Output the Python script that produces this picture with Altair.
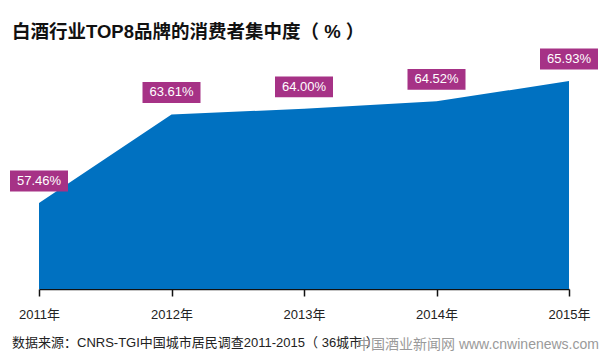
import altair as alt
import pandas as pd

years = [2011, 2012, 2013, 2014, 2015]
values = [57.46, 63.61, 64.00, 64.52, 65.93]
labels = ["57.46%", "63.61%", "64.00%", "64.52%", "65.93%"]
title_text = "白酒行业TOP8品牌的消费者集中度（ % ）"
source_text = "数据来源：CNRS-TGI中国城市居民调查2011-2015（ 36城市 ）"
watermark_text = "中国酒业新闻网  www.cnwinenews.com"

Y_MIN, Y_MAX = 51.49, 68.78

df = pd.DataFrame({"year": years, "value": values, "label": labels})

FONT = "Liberation Sans, Noto Sans CJK SC, sans-serif"
BLUE = "#0071C1"
MAGENTA = "#A63286"

x_enc = alt.X("year:Q",
              scale=alt.Scale(domain=[2011, 2015], nice=False, zero=False),
              axis=alt.Axis(values=years, labelExpr="datum.value + '年'",
                            title=None, grid=False, domainColor="#111",
                            tickColor="#111", tickSize=7, tickWidth=1.5,
                            domainWidth=1.5,
                            labelFont=FONT, labelFontSize=13, labelColor="#222",
                            labelPadding=12, labelFlush=False, labelBound=False,
                            labelOverlap=False))
y_scale = alt.Scale(domain=[Y_MIN, Y_MAX], nice=False, zero=False)

base = alt.Chart(df)

area = base.mark_area(color=BLUE, opacity=1, interpolate="linear").encode(
    x=x_enc,
    y=alt.Y("value:Q", scale=y_scale, axis=None),
    y2=alt.datum(Y_MIN),
)

box = base.mark_point(
    shape="M-1,-0.36 L1,-0.36 L1,0.36 L-1,0.36 Z",
    size=3364, filled=True, color=MAGENTA, opacity=1, strokeWidth=0,
    yOffset=-22,
).encode(x="year:Q", y=alt.Y("value:Q", scale=y_scale))

txt = base.mark_text(
    color="white", font=FONT, fontSize=13, baseline="middle", align="center",
    yOffset=-22,
).encode(x="year:Q", y=alt.Y("value:Q", scale=y_scale), text="label:N")

title = alt.Chart(pd.DataFrame({"t": [title_text]})).mark_text(
    font=FONT, fontSize=18.5, fontWeight="bold", color="#111",
    align="left", baseline="middle",
).encode(text="t:N", x=alt.value(-27), y=alt.value(-8))

source = alt.Chart(pd.DataFrame({"t": [source_text]})).mark_text(
    font=FONT, fontSize=13, color="#222", align="left", baseline="middle",
).encode(text="t:N", x=alt.value(-27), y=alt.value(303))

watermark = alt.Chart(pd.DataFrame({"t": [watermark_text]})).mark_text(
    font=FONT, fontSize=14, color="#9a9a9a", align="left", baseline="middle",
).encode(text="t:N", x=alt.value(318), y=alt.value(305))

chart = alt.layer(area, box, txt, title, source, watermark).properties(
    width=530, height=249,
    autosize=alt.AutoSizeParams(type="none"),
    padding={"left": 39, "top": 40, "right": 37, "bottom": 64},
    background="white",
).configure_view(stroke=None)

chart.save("out.html", embed_options={"renderer": "svg", "actions": False})
